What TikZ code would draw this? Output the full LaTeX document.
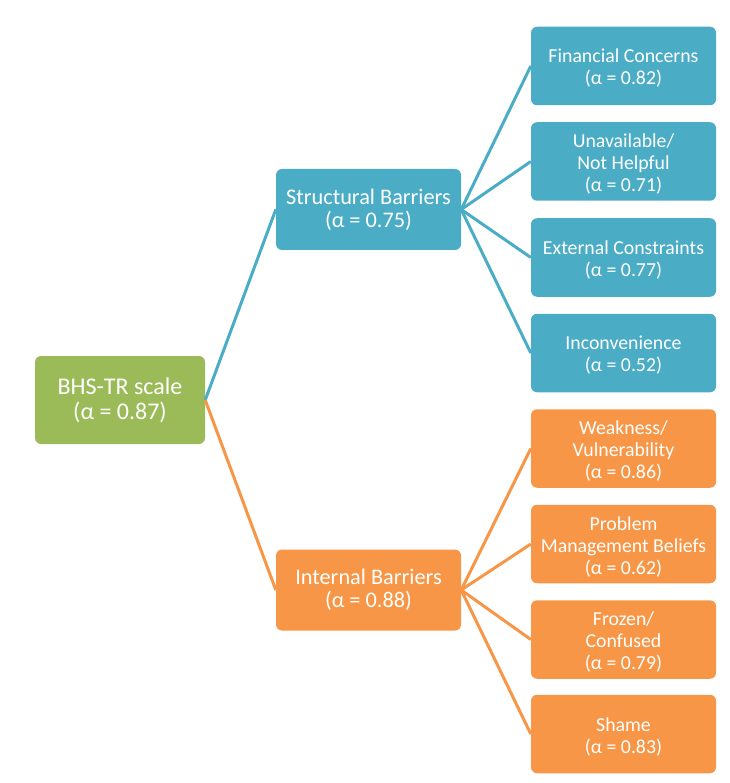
\documentclass[tikz,border=0pt]{standalone}
\usepackage{fontspec}
\setmainfont{Carlito}
\definecolor{aquafill}{HTML}{4BACC6}
\definecolor{orangefill}{HTML}{F79646}
\definecolor{greenfill}{HTML}{9BBB59}
\begin{document}
\begin{tikzpicture}[x=1pt,y=-1pt]
\useasboundingbox (0,0) rectangle (729,783);
\tikzset{
  box/.style={rounded corners=6pt, text=white, align=center, inner sep=0pt,
              minimum width=185pt},
  rootbox/.style={box, fill=greenfill, minimum width=170pt, minimum height=88pt,
              font=\fontsize{24}{25}\selectfont},
  midbox/.style={box, minimum height=81pt, font=\fontsize{22.3}{23}\selectfont},
  leafbox/.style={box, minimum height=78.5pt},
  leaftext/.style={text=white, align=center, inner sep=0pt,
              font=\fontsize{19.8}{22}\selectfont},
  structfill/.style={fill=aquafill},
  intfill/.style={fill=orangefill},
  link/.style={line width=3pt},
}
% a leaf box (#1 name, #2 fill style, #3 centre) with its text set slightly low
\newcommand\leafnode[4]{%
  \node[leafbox, #2] (#1) at (#3) {};
  \node[leaftext] (#1-text) at ([yshift=-2.5pt]#1.center) {#4};
}
% root
\node[rootbox] (root) at (120,400) {BHS-TR scale\\(α = 0.87)};
% second level
\node[midbox, structfill] (sb) at (368.5,209.5) {Structural Barriers\\(α = 0.75)};
\node[midbox, intfill] (ib) at (368.5,590) {Internal Barriers\\(α = 0.88)};
% structural leaves
\leafnode{s1}{structfill}{623.5,66}{Financial Concerns\\(α = 0.82)}
\leafnode{s2}{structfill}{623.5,161.5}{Unavailable/\\Not Helpful\\(α = 0.71)}
\leafnode{s3}{structfill}{623.5,257.5}{External Constraints\\(α = 0.77)}
\leafnode{s4}{structfill}{623.5,353}{Inconvenience\\(α = 0.52)}
% internal leaves
\leafnode{i1}{intfill}{623.5,448.5}{Weakness/\\Vulnerability\\(α = 0.86)}
\leafnode{i2}{intfill}{623.5,544}{Problem\\Management Beliefs\\(α = 0.62)}
\leafnode{i3}{intfill}{623.5,639.5}{Frozen/\\Confused\\(α = 0.79)}
\leafnode{i4}{intfill}{623.5,734}{Shame\\(α = 0.83)}
% connectors
\draw[link, aquafill] (root.east) -- (sb.west);
\draw[link, orangefill] (root.east) -- (ib.west);
\foreach \n in {s1,s2,s3,s4} \draw[link, aquafill] (sb.east) -- (\n.west);
\foreach \n in {i1,i2,i3,i4} \draw[link, orangefill] (ib.east) -- (\n.west);
\end{tikzpicture}
\end{document}
